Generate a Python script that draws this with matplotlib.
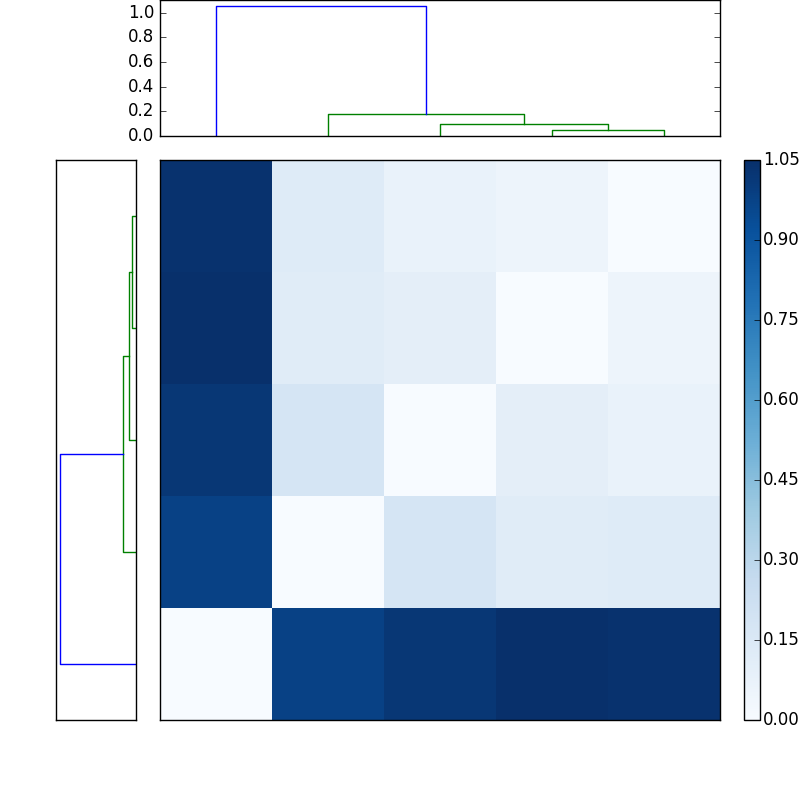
import numpy as np
import matplotlib
matplotlib.use('Agg')
import matplotlib.pyplot as plt

plt.style.use('classic')

# pairwise distances between the 5 items (symmetric, zero diagonal)
items = [0, 1, 2, 3, 4]
d01, d02, d03, d04 = 0.98, 1.02, 1.05, 1.04
d12, d13, d14 = 0.18, 0.12, 0.13
d23, d24 = 0.10, 0.07
d34 = 0.05

D = np.array([
    [0.0, d01, d02, d03, d04],
    [d01, 0.0, d12, d13, d14],
    [d02, d12, 0.0, d23, d24],
    [d03, d13, d23, 0.0, d34],
    [d04, d14, d24, d34, 0.0],
])


def complete_linkage(dist):
    # returns rows (a, b, height) like scipy's linkage
    n = len(dist)
    clusters = {i: [i] for i in range(n)}
    rows = []
    nxt = n
    while len(clusters) > 1:
        keys = sorted(clusters)
        best = None
        for i, a in enumerate(keys):
            for b in keys[i + 1:]:
                h = max(dist[p, q] for p in clusters[a] for q in clusters[b])
                if best is None or h < best[2]:
                    best = (a, b, h)
        a, b, h = best
        clusters[nxt] = clusters.pop(a) + clusters.pop(b)
        rows.append(best)
        nxt += 1
    return rows


def dendro_links(rows, n, thresh):
    # leaf order and U-shaped links in scipy coordinates (leaves at 5, 15, ...)
    children = {n + k: (r[0], r[1]) for k, r in enumerate(rows)}
    heights = {n + k: r[2] for k, r in enumerate(rows)}
    order = []

    def walk(c):
        if c < n:
            order.append(c)
        else:
            walk(children[c][0])
            walk(children[c][1])
    walk(n + len(rows) - 1)
    pos = {leaf: 5 + 10 * i for i, leaf in enumerate(order)}
    hgt = {leaf: 0.0 for leaf in order}
    links = []
    for c in sorted(children):
        a, b = children[c]
        h = heights[c]
        links.append(([pos[a], pos[a], pos[b], pos[b]],
                      [hgt[a], h, h, hgt[b]],
                      'g' if h < thresh else 'b'))
        pos[c] = (pos[a] + pos[b]) / 2.0
        hgt[c] = h
    return order, links


rows = complete_linkage(D)
maxh = max(r[2] for r in rows)
order, links = dendro_links(rows, len(items), 0.7 * maxh)
n = len(items)

fig = plt.figure(figsize=(8, 8), dpi=100)

# left dendrogram (root on the left)
ax1 = fig.add_axes([0.07, 0.1, 0.1, 0.7])
for xs, ys, c in links:
    ax1.plot(ys, xs, color=c)
ax1.set_ylim(0, 10 * n)
ax1.set_xlim(maxh * 1.05, 0)
ax1.set_xticks([])
ax1.set_yticks([])

# top dendrogram
ax2 = fig.add_axes([0.2, 0.83, 0.7, 0.17])
for xs, ys, c in links:
    ax2.plot(xs, ys, color=c)
ax2.set_xlim(0, 10 * n)
ax2.set_ylim(0, maxh * 1.05)
ax2.set_xticks([])
ax2.set_yticks([0.0, 0.2, 0.4, 0.6, 0.8, 1.0])

# distance matrix
axm = fig.add_axes([0.2, 0.1, 0.7, 0.7])
Dm = D[order, :][:, order]
im = axm.imshow(Dm, aspect='auto', origin='lower', cmap='Blues',
                interpolation='nearest', vmin=0, vmax=Dm.max())
axm.set_xticks([])
axm.set_yticks([])

axc = fig.add_axes([0.93, 0.1, 0.02, 0.7])
cb = plt.colorbar(im, cax=axc, ticks=np.linspace(0, Dm.max(), 8))
cb.ax.set_yticklabels(['%.2f' % t for t in np.linspace(0, Dm.max(), 8)])
cb.ax.tick_params(pad=2)

fig.savefig('out.png', dpi=100)
